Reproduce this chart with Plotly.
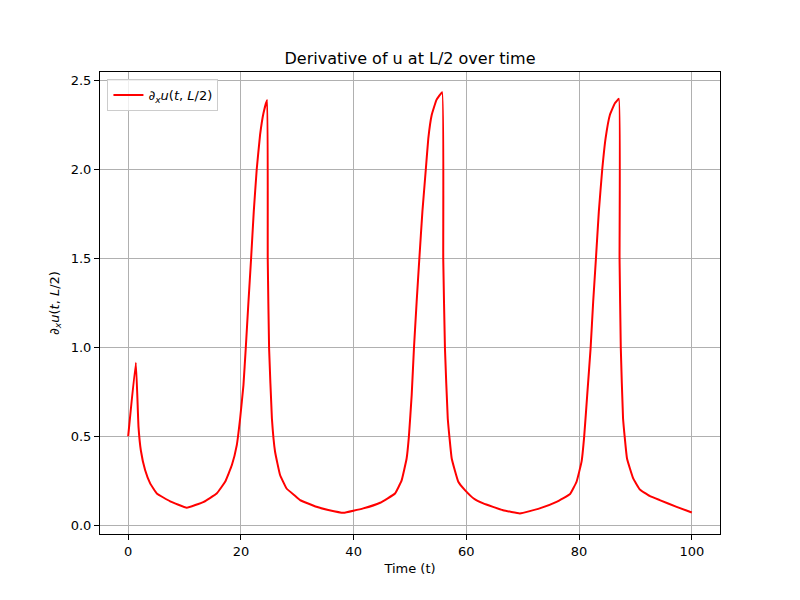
import plotly.graph_objects as go

# values
t = [0.0, 1.36, 1.83, 2.25, 3.0, 3.9, 5.08, 7.45, 10.4, 13.4, 15.7, 17.2, 18.4,
     19.27, 19.86, 20.45, 20.86, 21.34, 21.8, 22.28, 22.8, 23.4, 24.0, 24.65,
     24.76, 25.0, 25.5, 26.06, 26.95, 28.1, 29.6, 30.5, 33.4, 35.5, 38.2,
     41.7, 44.7, 47.34, 48.5, 49.4, 49.8, 50.3, 50.7, 51.18, 51.65, 52.2,
     52.8, 53.25, 53.85, 54.7, 55.7, 55.9, 56.2, 56.7, 57.4, 58.57, 59.75,
     61.3, 63.0, 66.5, 69.5, 73.0, 76.0, 78.4, 79.55, 80.44, 80.9, 81.44,
     82.04, 82.5, 82.98, 83.5, 84.1, 84.7, 85.46, 86.35, 87.06, 87.18, 87.4,
     87.8, 88.5, 89.6, 90.8, 92.5, 94.3, 97.3, 100.0]
dudx = [0.5, 0.914, 0.553, 0.42, 0.31, 0.235, 0.178, 0.134, 0.098, 0.131, 0.178,
        0.244, 0.338, 0.45, 0.6, 0.788, 0.995, 1.257, 1.496, 1.764, 2.0, 2.196,
        2.318, 2.393, 1.496, 0.995, 0.6, 0.413, 0.282, 0.206, 0.165, 0.141,
        0.103, 0.085, 0.069, 0.094, 0.126, 0.178, 0.25, 0.375, 0.497, 0.732,
        0.995, 1.257, 1.496, 1.764, 2.0, 2.177, 2.308, 2.393, 2.436, 1.496,
        0.995, 0.6, 0.375, 0.244, 0.197, 0.15, 0.122, 0.084, 0.066, 0.094,
        0.131, 0.175, 0.244, 0.357, 0.497, 0.732, 0.995, 1.257, 1.496, 1.764,
        2.0, 2.177, 2.308, 2.374, 2.399, 1.496, 0.995, 0.6, 0.375, 0.263, 0.2,
        0.165, 0.141, 0.103, 0.071]

x_ticks = [0, 20, 40, 60, 80, 100]
y_ticks = [0.0, 0.5, 1.0, 1.5, 2.0, 2.5]

label = "∂<sub><i>x</i></sub><i>u</i>(<i>t</i>, <i>L</i>/2)"
font = dict(family="DejaVu Sans", size=13, color="black")

fig = go.Figure(
    go.Scatter(x=t, y=dudx, mode="lines", name=label,
               line=dict(color="red", width=2, shape="spline", smoothing=0.3))
)

axis_style = dict(
    showline=True, linecolor="black", linewidth=1, mirror=True,
    showgrid=True, gridcolor="#b0b0b0", gridwidth=1,
    ticks="outside", ticklen=5, tickcolor="black", zeroline=False,
    tickfont=font,
)

# the page body adds 8px on the left/top, so margins are trimmed by that
fig.update_layout(
    width=800, height=600,
    margin=dict(l=92, r=88, t=64, b=74),
    paper_bgcolor="white", plot_bgcolor="white",
    font=font,
    title=dict(text="Derivative of u at L/2 over time", x=0.5, xref="paper",
               xanchor="center", y=1 - 50 / 600, yanchor="middle",
               font=dict(family="DejaVu Sans", size=16, color="black")),
    xaxis=dict(range=[-5, 105], tickvals=x_ticks,
               title=dict(text="Time (t)", font=font, standoff=6), **axis_style),
    yaxis=dict(range=[-0.05, 2.55], tickvals=y_ticks, tickformat=".1f",
               title=dict(text=label, font=font, standoff=8), **axis_style),
    legend=dict(x=0.012, y=0.985, xanchor="left", yanchor="top",
                bgcolor="rgba(255,255,255,0.8)", bordercolor="#cccccc",
                borderwidth=1, font=font),
    showlegend=True,
)

fig.write_html("out.html")
